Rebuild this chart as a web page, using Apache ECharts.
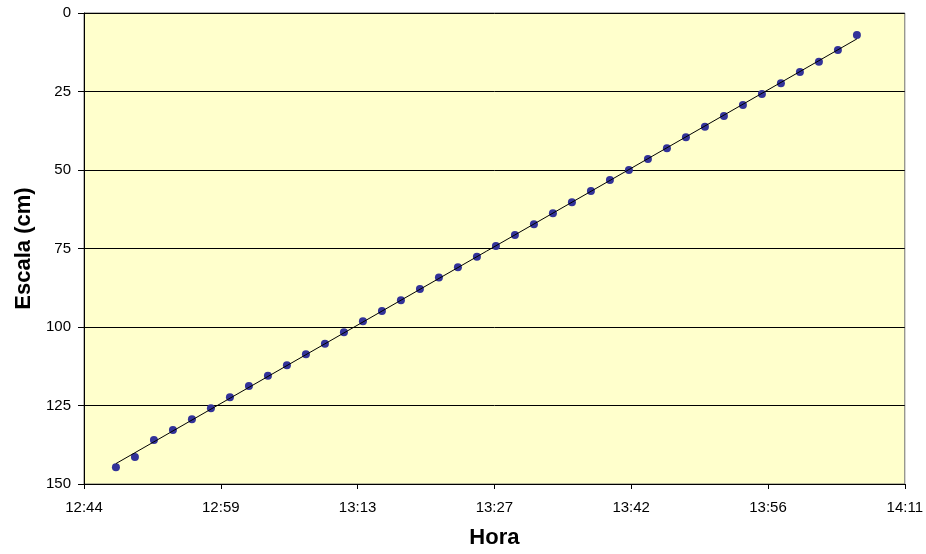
<!DOCTYPE html>
<html>
<head>
<meta charset="utf-8">
<script src="https://cdn.jsdelivr.net/npm/echarts@6/dist/echarts.min.js"></script>
<style>
  html, body { margin: 0; padding: 0; background: #ffffff; }
  #chart { width: 926px; height: 554px; }
</style>
</head>
<body>
<div id="chart"></div>
<script>
// Reading times (every two minutes)
const horas = [
  '12:48','12:50','12:52','12:54','12:56','12:58','13:00','13:02','13:04','13:06',
  '13:08','13:10','13:12','13:14','13:16','13:18','13:20','13:22','13:24','13:26',
  '13:28','13:30','13:32','13:34','13:36','13:38','13:40','13:42','13:44','13:46',
  '13:48','13:50','13:52','13:54','13:56','13:58','14:00','14:02','14:04','14:06'
];

// Scale readings (cm)
const escala = [
  144.7, 141.4, 136.0, 132.8, 129.4, 125.9, 122.4, 118.8, 115.5, 112.2,
  108.7, 105.3, 101.7, 98.2, 94.9, 91.5, 87.9, 84.2, 81.0, 77.6,
  74.2, 70.7, 67.3, 63.8, 60.3, 56.7, 53.2, 50.0, 46.5, 43.1,
  39.6, 36.2, 32.8, 29.3, 25.8, 22.4, 18.8, 15.5, 11.8, 7.0
];

// Time axis labels (one step = 0.01 day = 14.4 min, starting at 12:44:38)
const horaTicks = ['12:44', '12:59', '13:13', '13:27', '13:42', '13:56', '14:11'];
const yTicks = [0, 25, 50, 75, 100, 125, 150];

// Axis origin in minutes since midnight and step in minutes
const ORIGIN_MIN = 0.531 * 1440;
const STEP_MIN = 0.01 * 1440;

function toMinutes(hhmm) {
  const p = hhmm.split(':');
  return Number(p[0]) * 60 + Number(p[1]) - ORIGIN_MIN;
}

const points = horas.map((h, i) => [toMinutes(h), escala[i]]);

// Least-squares linear trend over the readings
const n = points.length;
let sx = 0, sy = 0, sxx = 0, sxy = 0;
points.forEach(([x, y]) => { sx += x; sy += y; sxx += x * x; sxy += x * y; });
const slope = (n * sxy - sx * sy) / (n * sxx - sx * sx);
const intercept = (sy - slope * sx) / n;
const xs = points.map(p => p[0]);
const xMin = Math.min(...xs), xMax = Math.max(...xs);
const trend = [[xMin, intercept + slope * xMin], [xMax, intercept + slope * xMax]];

const FONT = 'Arial, "Liberation Sans", sans-serif';

const chart = echarts.init(document.getElementById('chart'), null, { renderer: 'canvas' });
chart.setOption({
  animation: false,
  backgroundColor: '#ffffff',
  grid: {
    left: 84, right: 20, top: 13, bottom: 70,
    show: true,
    backgroundColor: '#FFFFCC',
    borderColor: '#707070',
    borderWidth: 1
  },
  xAxis: {
    type: 'value',
    min: 0,
    max: STEP_MIN * (horaTicks.length - 1),
    interval: STEP_MIN,
    name: 'Hora',
    nameLocation: 'middle',
    nameGap: 43,
    nameTextStyle: { fontFamily: FONT, fontSize: 22, fontWeight: 'bold', color: '#000' },
    axisLine: { show: true, onZero: false, lineStyle: { color: '#000', width: 1 } },
    axisTick: { show: true, length: 5, lineStyle: { color: '#000' } },
    axisLabel: {
      fontFamily: FONT, fontSize: 15, color: '#000', margin: 16,
      formatter: v => horaTicks[Math.round(v / STEP_MIN)] || ''
    },
    splitLine: { show: false }
  },
  yAxis: {
    type: 'value',
    inverse: true,
    min: yTicks[0],
    max: yTicks[yTicks.length - 1],
    interval: yTicks[1] - yTicks[0],
    name: 'Escala (cm)',
    nameLocation: 'middle',
    nameGap: 48,
    nameTextStyle: { fontFamily: FONT, fontSize: 22, fontWeight: 'bold', color: '#000' },
    axisLine: { show: true, onZero: false, lineStyle: { color: '#000', width: 1 } },
    axisTick: { show: true, length: 6, lineStyle: { color: '#000' } },
    axisLabel: { fontFamily: FONT, fontSize: 15, color: '#000', margin: 13 },
    splitLine: { show: true, lineStyle: { color: '#000', width: 1 } }
  },
  series: [
    {
      name: 'Escala',
      type: 'scatter',
      data: points,
      symbol: 'circle',
      symbolSize: 8,
      itemStyle: { color: '#333399', opacity: 1 },
      z: 2
    },
    {
      name: 'Tendencia',
      type: 'line',
      data: trend,
      showSymbol: false,
      symbol: 'none',
      lineStyle: { color: '#000', width: 1 },
      z: 3
    }
  ]
});
</script>
</body>
</html>
